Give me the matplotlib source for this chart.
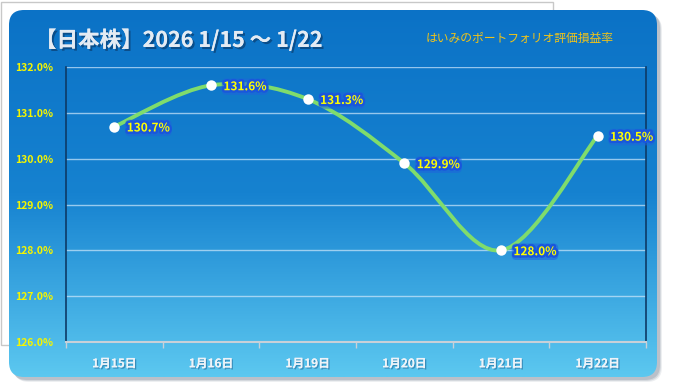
import numpy as np
import matplotlib
matplotlib.use('Agg')
import matplotlib.pyplot as plt
import matplotlib.patheffects as pe
from matplotlib.patches import FancyBboxPatch, Rectangle, PathPatch
from matplotlib.path import Path
from matplotlib.colors import LinearSegmentedColormap

plt.rcParams['font.family'] = ['Noto Sans CJK JP', 'DejaVu Sans']

# データ
dates = ['1月15日', '1月16日', '1月19日', '1月20日', '1月21日', '1月22日']
values = [130.7, 131.6, 131.3, 129.9, 128.0, 130.5]
y_ticks = [126, 127, 128, 129, 130, 131, 132]
title = '【日本株】2026 1/15 ～ 1/22'
subtitle = 'はいみのポートフォリオ評価損益率'

W, H = 674, 392
fig = plt.figure(figsize=(W / 100, H / 100), dpi=100)

# 背景 (ピクセル座標)
bg = fig.add_axes([0, 0, 1, 1])
bg.set_xlim(0, W)
bg.set_ylim(H, 0)
bg.axis('off')

bg.add_patch(Rectangle((1, 2), 552, 343, facecolor='white', edgecolor='#c8c8c8', lw=1))

# 影
for off, a in [(5, 0.15), (4, 0.25), (3, 0.35)]:
    bg.add_patch(FancyBboxPatch((9 + off, 10 + off), 648, 367,
                                boxstyle='round,pad=0,rounding_size=15',
                                facecolor='#8a96a4', edgecolor='none', alpha=a))

panel = FancyBboxPatch((9, 10), 648, 367, boxstyle='round,pad=0,rounding_size=15',
                       facecolor='none', edgecolor='none')
bg.add_patch(panel)
cmap = LinearSegmentedColormap.from_list('g', ['#0b72c6', '#1682d0', '#5cc8f0'])
grad = np.linspace(0, 1, 256).reshape(-1, 1)
im = bg.imshow(grad, cmap=cmap, extent=(9, 657, 377, 10), aspect='auto', zorder=1)
im.set_clip_path(panel)

bg.text(35, 40, title, fontsize=15.5, fontweight='bold', color='#e4ebf3',
        va='center', ha='left', zorder=3,
        path_effects=[pe.withSimplePatchShadow(offset=(1.5, -1.5), shadow_rgbFace='#0a3460', alpha=0.6),
                      pe.Normal()])
bg.text(520, 38, subtitle, fontsize=8.5, color='#f2c418', style='italic',
        va='center', ha='center', zorder=3)

# メインのグラフ
ax = fig.add_axes([66 / W, 1 - 342 / H, (646 - 66) / W, (342 - 67) / H])
ax.set_facecolor('none')
ax.set_xlim(-0.5, 5.5)
ax.set_ylim(126, 132)

x = np.arange(len(values))
y = np.array(values)

# 平滑線 (ベジェ)
verts = [(x[0], y[0])]
codes = [Path.MOVETO]
n = len(values)
for i in range(n - 1):
    p0 = np.array([x[i], y[i]])
    p3 = np.array([x[i + 1], y[i + 1]])
    prev = np.array([x[i - 1], y[i - 1]]) if i > 0 else p0
    nxt = np.array([x[i + 2], y[i + 2]]) if i + 2 < n else p3
    c1 = p0 + (p3 - prev) / 6
    c2 = p3 - (nxt - p0) / 6
    verts += [tuple(c1), tuple(c2), tuple(p3)]
    codes += [Path.CURVE4] * 3
ax.add_patch(PathPatch(Path(verts, codes), facecolor='none', edgecolor='#7fdc6c',
                       lw=2.8, capstyle='round', zorder=3))
ax.plot(x, y, 'o', color='white', markersize=7.5, markeredgewidth=0, zorder=4)

for xi, yi in zip(x, y):
    ax.annotate(f'{yi:.1f}%', (xi, yi), xytext=(9, -1), textcoords='offset points',
                ha='left', va='center', fontsize=8.5, fontweight='bold', color='#ffff00',
                zorder=5,
                bbox=dict(boxstyle='round,pad=0.15,rounding_size=0.4', fc='#1e64dc',
                          ec='none', alpha=0.55),
                path_effects=[pe.withStroke(linewidth=3.5, foreground='#1a56dc')])

ax.set_yticks(y_ticks)
ax.set_yticklabels([f'{v:.1f}%' for v in y_ticks])
ax.tick_params(axis='y', length=0, pad=9, labelsize=7.5, labelcolor='#f5f500')
for lab in ax.get_yticklabels():
    lab.set_fontweight('bold')
ax.grid(axis='y', color='#cfe8fb', alpha=0.7, lw=1)
ax.set_axisbelow(True)

ax.set_xticks(x)
ax.set_xticklabels(dates)
ax.set_xticks(np.arange(-0.5, 6, 1), minor=True)
ax.tick_params(axis='x', which='major', length=0, pad=11, labelsize=8.5, labelcolor='#eef3f8')
ax.tick_params(axis='x', which='minor', length=4, width=1, color='#c8d0d8', direction='out')
for lab in ax.get_xticklabels():
    lab.set_fontweight('bold')
    lab.set_path_effects([pe.withSimplePatchShadow(offset=(1, -1), shadow_rgbFace='#1a5a8a', alpha=0.5),
                          pe.Normal()])

ax.spines['top'].set_visible(False)
ax.spines['left'].set_color('#0d3a66')
ax.spines['right'].set_color('#0d3a66')
ax.spines['left'].set_linewidth(1.2)
ax.spines['right'].set_linewidth(1.2)
ax.spines['bottom'].set_color('#c8d0d8')
ax.spines['bottom'].set_linewidth(1.5)

fig.savefig('out.png', dpi=100)
